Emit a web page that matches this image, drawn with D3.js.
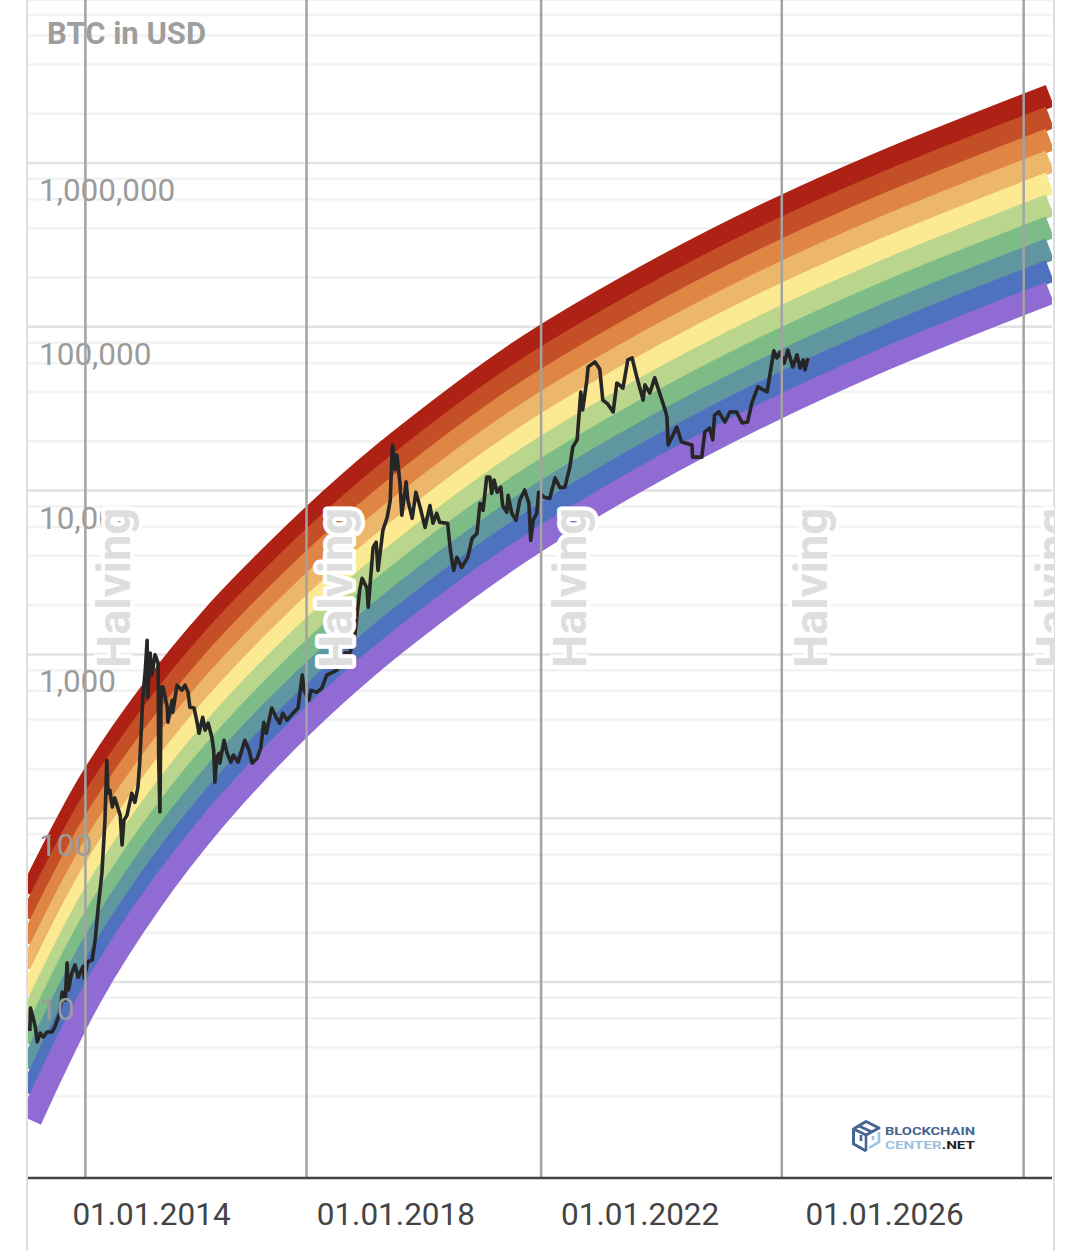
<!DOCTYPE html>
<html>
<head>
<meta charset="utf-8">
<title>BTC rainbow chart</title>
<script src="https://cdn.jsdelivr.net/npm/d3@7"></script>
<style>
    body { margin: 0; background: #fff; }
    svg { display: block; font-family: Roboto, sans-serif; }
</style>
</head>
<body>
<div id="chart"></div>
<script>
const bandYears = [2012.01, 2013, 2014, 2015, 2016, 2017, 2018, 2020, 2022, 2024, 2026, 2028.7];

// Centre line of each band, top band first
const band1 = [34.1, 171, 598, 1702, 4145, 9356, 19440, 69810, 194900, 473900, 1025000, 2578000];
const band2 = [24.0, 122, 431, 1237, 3030, 6849, 14230, 51030, 142700, 347500, 752900, 1894000];
const band3 = [16.9, 87.1, 311, 899, 2215, 5014, 10420, 37300, 104460, 254700, 552800, 1392000];
const band4 = [11.9, 62.2, 225, 653, 1619, 3671, 7627, 27270, 76470, 186800, 405900, 1023000];
const band5 = [8.34, 44.4, 162, 475, 1184, 2687, 5583, 19930, 55980, 136900, 298000, 751400];
const band6 = [5.87, 31.7, 117, 345, 865, 1967, 4087, 14570, 40980, 100400, 218800, 552100];
const band7 = [4.13, 22.6, 84.4, 251, 632, 1440, 2992, 10650, 30000, 73590, 160700, 405700];
const band8 = [2.91, 16.1, 60.9, 182, 462, 1054, 2190, 7785, 21960, 53950, 118000, 298000];
const band9 = [2.05, 11.5, 43.9, 132, 338, 772, 1604, 5691, 16080, 39560, 86620, 219000];
const band10 = [1.44, 8.21, 31.7, 96.2, 247, 565, 1174, 4160, 11770, 29000, 63600, 160900];
const bandColors = ["#ae2215", "#c44f27", "#e08644", "#edb76b", "#fcea93", "#b9d68c", "#7dbc86", "#6096a0", "#4f72bf", "#8f6bd3"];

const priceYears = [
    2012.00, 2012.01, 2012.05, 2012.09, 2012.12, 2012.17, 2012.22, 2012.28, 2012.36, 2012.41, 2012.49, 2012.53,
    2012.58, 2012.61, 2012.63, 2012.69, 2012.74, 2012.79, 2012.87, 2012.89, 2012.95, 2013.02, 2013.07, 2013.12,
    2013.18, 2013.23, 2013.26, 2013.28, 2013.31, 2013.35, 2013.39, 2013.48, 2013.51, 2013.54, 2013.59, 2013.67,
    2013.72, 2013.77, 2013.80, 2013.85, 2013.89, 2013.92, 2013.93, 2013.97, 2014.00, 2014.05, 2014.10, 2014.11,
    2014.13, 2014.15, 2014.18, 2014.25, 2014.26, 2014.33, 2014.34, 2014.41, 2014.49, 2014.54, 2014.59, 2014.62,
    2014.69, 2014.74, 2014.77, 2014.83, 2014.87, 2014.92, 2014.98, 2015.01, 2015.03, 2015.06, 2015.10, 2015.11,
    2015.18, 2015.23, 2015.29, 2015.33, 2015.41, 2015.52, 2015.59, 2015.64, 2015.72, 2015.78, 2015.83, 2015.87,
    2015.96, 2016.03, 2016.09, 2016.14, 2016.21, 2016.31, 2016.39, 2016.46, 2016.49, 2016.57, 2016.60, 2016.70,
    2016.78, 2016.86, 2017.03, 2017.16, 2017.24, 2017.32, 2017.40, 2017.44, 2017.52, 2017.54, 2017.62, 2017.67,
    2017.70, 2017.78, 2017.85, 2017.90, 2017.93, 2017.94, 2017.98, 2018.01, 2018.06, 2018.09, 2018.16, 2018.19,
    2018.26, 2018.32, 2018.39, 2018.47, 2018.55, 2018.60, 2018.66, 2018.71, 2018.84, 2018.88, 2018.91, 2018.94,
    2018.99, 2019.07, 2019.17, 2019.24, 2019.32, 2019.37, 2019.42, 2019.48, 2019.53, 2019.56, 2019.60, 2019.65,
    2019.71, 2019.74, 2019.81, 2019.83, 2019.89, 2019.96, 2020.02, 2020.10, 2020.17, 2020.20, 2020.24, 2020.30,
    2020.33, 2020.42, 2020.51, 2020.60, 2020.68, 2020.76, 2020.84, 2020.89, 2020.96, 2021.02, 2021.05, 2021.12,
    2021.14, 2021.25, 2021.33, 2021.38, 2021.46, 2021.55, 2021.61, 2021.71, 2021.79, 2021.86, 2021.94, 2022.04,
    2022.07, 2022.15, 2022.23, 2022.31, 2022.40, 2022.43, 2022.45, 2022.59, 2022.67, 2022.84, 2022.85, 2023.00,
    2023.05, 2023.13, 2023.18, 2023.21, 2023.28, 2023.38, 2023.46, 2023.57, 2023.66, 2023.75, 2023.82, 2023.92,
    2024.07, 2024.12, 2024.18, 2024.23, 2024.28, 2024.35, 2024.41, 2024.49, 2024.56, 2024.61, 2024.66, 2024.69,
    2024.74
];
const priceValues = [
    5.02, 6.94, 6.11, 5.31, 4.31, 4.88, 4.61, 4.95, 4.95, 5.31, 6.47, 8.69,
    7.76, 13.1, 8.93, 11.4, 12.7, 10.7, 12.4, 10.6, 13.3, 13.6, 18.1, 28.7,
    46.2, 97, 226, 142, 148, 117, 133, 104, 68.7, 97, 104, 142,
    125, 155, 220, 547, 802, 1220, 547, 1020, 748, 996, 885, 226,
    109, 632, 632, 476, 385, 525, 443, 649, 604, 649, 588, 476,
    470, 380, 330, 413, 345, 380, 312, 260, 166, 236, 249, 217,
    299, 249, 220, 243, 220, 299, 260, 217, 232, 268, 385, 330,
    470, 413, 380, 438, 397, 438, 470, 748, 604, 525, 604, 588,
    623, 748, 802, 1020, 1020, 1310, 2460, 2910, 2530, 1940, 4500, 4840,
    3260, 5730, 6870, 8700, 17000, 19000, 13400, 16500, 11100, 7070, 11300, 8700,
    6770, 9780, 7900, 5960, 8100, 6320, 7270, 6400, 6320, 4500, 3750, 3260,
    3910, 3400, 3910, 5110, 5470, 8370, 7580, 12100, 12100, 9620, 11600, 9780,
    10500, 8100, 7370, 9360, 7270, 6590, 8700, 10100, 8370, 4970, 6590, 7270,
    9780, 9100, 8950, 11950, 10400, 10500, 13900, 18500, 20400, 40000, 31100, 47400,
    56900, 61100, 55200, 35700, 33800, 30200, 45400, 42300, 62800, 64500, 48800, 35700,
    44200, 39400, 48800, 39400, 31100, 28200, 19000, 24400, 19800, 19000, 16000, 16000,
    22800, 24100, 20400, 28900, 30200, 26200, 30200, 30200, 25900, 26200, 34300, 43000,
    40000, 52200, 71300, 64500, 70000, 60100, 72200, 56900, 67300, 56000, 62800, 54600,
    64500
];

const halvingYears = [2012.91, 2016.53, 2020.37, 2024.31, 2028.27];
const xTickYears = [2014, 2018, 2022, 2026];
const yLabelValues = [1000000, 100000, 10000, 1000, 100, 10];
const majorGrid = [10000000, 1000000, 100000, 10000, 1000, 100, 10];
const minorGrid = [
    2, 4, 6, 8, 20, 40, 60, 80, 200, 400, 600, 800, 2000, 4000, 6000, 8000,
    20000, 40000, 60000, 80000, 200000, 400000, 600000, 800000,
    2000000, 4000000, 6000000, 8000000
];

const width = 1080;
const height = 1251;
const plotLeft = 28;
const plotRight = 1052;
const plotBottom = 1178;

const x = d3.scaleLinear().domain([2014, 2026]).range([152, 885]);
const y = d3.scaleLog().domain([10, 1000000]).range([982, 163]);

const svg = d3.select("#chart").append("svg")
    .attr("width", width)
    .attr("height", height);

// Everything in the plot is cut off at its edges
svg.append("clipPath").attr("id", "plot-clip").append("rect")
    .attr("x", plotLeft)
    .attr("y", 0)
    .attr("width", plotRight - plotLeft)
    .attr("height", plotBottom);
svg.append("clipPath").attr("id", "label-clip").append("rect")
    .attr("x", plotLeft)
    .attr("y", 0)
    .attr("width", 1054 - plotLeft)
    .attr("height", plotBottom);

// Page frame on both sides
svg.selectAll(".frame")
    .data([27, 1054])
    .enter().append("line")
    .attr("class", "frame")
    .attr("x1", d => d)
    .attr("x2", d => d)
    .attr("y1", 0)
    .attr("y2", height)
    .style("stroke", "#dedede")
    .style("stroke-width", 2);

function drawGrid(values, color) {
    svg.append("g").selectAll("line")
        .data(values)
        .enter().append("line")
        .attr("x1", plotLeft)
        .attr("x2", plotRight)
        .attr("y1", d => y(d))
        .attr("y2", d => y(d))
        .style("stroke", color)
        .style("stroke-width", 2.5);
}
drawGrid(minorGrid, "#f2f2f2");
drawGrid(majorGrid, "#e2e2e2");

// Bands are thick lines, each one painted over the one above it
const bands = [band1, band2, band3, band4, band5, band6, band7, band8, band9, band10];
const bandLine = d3.line()
    .x((d, i) => x(bandYears[i]))
    .y(d => y(d))
    .curve(d3.curveCatmullRom);

svg.append("g")
    .attr("clip-path", "url(#plot-clip)")
    .selectAll("path")
    .data(bands)
    .enter().append("path")
    .attr("d", bandLine)
    .style("fill", "none")
    .style("stroke", (d, i) => bandColors[i])
    .style("stroke-width", 23)
    .style("stroke-linecap", "butt");

const priceLine = d3.line()
    .x((d, i) => x(priceYears[i]))
    .y(d => y(d));

svg.append("path")
    .datum(priceValues)
    .attr("clip-path", "url(#plot-clip)")
    .attr("d", priceLine)
    .style("fill", "none")
    .style("stroke", "#262626")
    .style("stroke-width", 3.6)
    .style("stroke-linejoin", "round");

// Value labels sit just under their gridline
svg.append("g").selectAll("text")
    .data(yLabelValues)
    .enter().append("text")
    .attr("x", 39)
    .attr("y", d => y(d) + 38)
    .style("font-size", "31.5px")
    .style("fill", "#9b9b9b")
    .text(d => d3.format(",")(d));

svg.append("text")
    .attr("x", 47)
    .attr("y", 44)
    .style("font-size", "31px")
    .style("font-weight", "700")
    .style("fill", "#9e9e9e")
    .text("BTC in USD");

// Halving markers
svg.append("g").selectAll("line")
    .data(halvingYears)
    .enter().append("line")
    .attr("x1", d => x(d))
    .attr("x2", d => x(d))
    .attr("y1", 0)
    .attr("y2", plotBottom)
    .style("stroke", "#a3a3a3")
    .style("stroke-width", 2.5);

svg.append("g")
    .attr("clip-path", "url(#label-clip)")
    .selectAll("text")
    .data(halvingYears)
    .enter().append("text")
    .attr("transform", d => `translate(${x(d) + 45},668) rotate(-90)`)
    .style("font-size", "47px")
    .style("font-weight", "700")
    .style("fill", "#dedede")
    .style("stroke", "#fff")
    .style("stroke-width", 8)
    .style("stroke-linejoin", "round")
    .style("paint-order", "stroke")
    .text("Halving");

// Time axis
const xAxis = d3.axisBottom(x)
    .tickValues(xTickYears)
    .tickSize(0)
    .tickPadding(0)
    .tickFormat(d => "01.01." + d);

const xAxisGroup = svg.append("g")
    .attr("transform", `translate(0,${plotBottom})`)
    .call(xAxis);
xAxisGroup.select(".domain").remove();
xAxisGroup.selectAll("text")
    .attr("x", -1)
    .attr("y", 47)
    .attr("dy", 0)
    .style("font-family", "Roboto, sans-serif")
    .style("font-size", "31.5px")
    .style("fill", "#444");

svg.append("line")
    .attr("x1", plotLeft)
    .attr("x2", plotRight)
    .attr("y1", plotBottom)
    .attr("y2", plotBottom)
    .style("stroke", "#444")
    .style("stroke-width", 2.5);

// Logo, bottom right
const logo = svg.append("g").attr("transform", "translate(852,1120)");
logo.append("path")
    .attr("d", "M1.5,9 L14,1.5 L27,8 L14,15 Z M7,6 L20,12 M1.5,9 L1.5,24 L9,28")
    .style("fill", "none")
    .style("stroke", "#47668f")
    .style("stroke-width", 3)
    .style("stroke-linejoin", "round");
logo.append("path")
    .attr("d", "M14,15 L14,31 M9,15 L9,21 M14,31 L7,27")
    .style("fill", "none")
    .style("stroke", "#47668f")
    .style("stroke-width", 2.6);
logo.append("path")
    .attr("d", "M27,12 L27,22 L17,28 M21,16 L21,20")
    .style("fill", "none")
    .style("stroke", "#9cc3e0")
    .style("stroke-width", 2.6);

logo.append("text")
    .attr("x", 33)
    .attr("y", 15)
    .attr("textLength", 90)
    .attr("lengthAdjust", "spacingAndGlyphs")
    .style("font-size", "11.5px")
    .style("font-weight", "700")
    .style("fill", "#47668f")
    .text("BLOCKCHAIN");

const logoLine2 = logo.append("text")
    .attr("x", 33)
    .attr("y", 28.5)
    .attr("textLength", 90)
    .attr("lengthAdjust", "spacingAndGlyphs")
    .style("font-size", "11.5px")
    .style("font-weight", "700");
logoLine2.append("tspan").style("fill", "#9cc3e0").text("CENTER");
logoLine2.append("tspan").style("fill", "#222").text(".NET");
</script>
</body>
</html>
